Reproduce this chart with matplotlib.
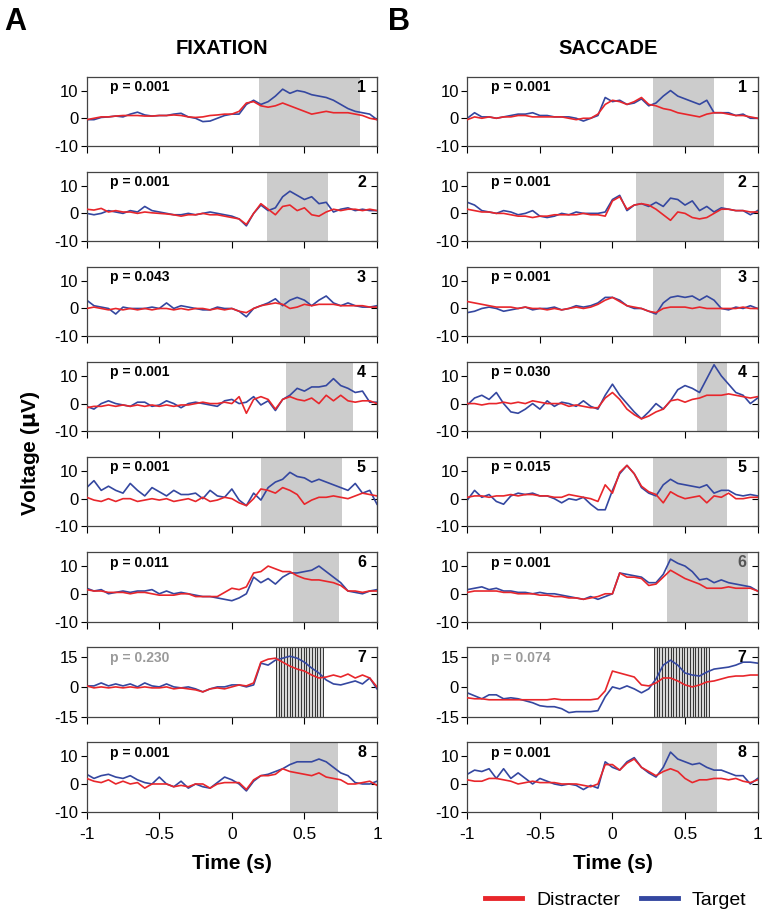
import numpy as np
import matplotlib.pyplot as plt
from matplotlib.lines import Line2D

plt.rcParams['font.family'] = ['Liberation Sans', 'DejaVu Sans']

RED = '#e8262b'
BLUE = '#3447a0'
SHADE = '#cccccc'

# sample times (s), one value every 50 ms
time = np.linspace(-1, 1, 41)

# ---- FIXATION: target (blue) and distracter (red) ERPs ----
fix1_target = [-0.5, -0.5, 0.3, 0.5, 0.8, 0.5, 1.5, 2.2, 1.2, 0.8, 1, 1, 1.5, 1.8, 0.5, 0, -1.2, -1, 0, 1, 1.5,
               1.5, 5, 6.5, 5, 6, 8, 10.5, 9, 10, 9.5, 8.5, 8, 7.5, 6.5, 5, 3.5, 2.5, 2, 1.5, -0.5]
fix1_distracter = [-0.5, 0, 0.5, 0.5, 0.8, 1, 1, 1, 0.8, 0.8, 1, 1, 1.2, 1, 0.5, 0.3, 0.5, 1, 1.2, 1.5, 1.5,
                   2.5, 5.5, 6, 4.5, 4, 4.5, 5.5, 4.5, 3.5, 2.5, 1.5, 2, 2.5, 2, 2, 2, 1.5, 1, 0, -0.5]
fix2_target = [0, -0.5, 0, 1, 0.5, 0, 1, 0.5, 2.5, 1, 0.5, 0, -0.5, -0.5, 0, -0.5, 0, 0.5, 0, -0.5, -1,
               -2, -4.5, 0, 3, 1, 2, 6, 8, 6.5, 5, 6, 3.5, 4, 0.5, 1.5, 2, 1, 1.5, 1, 1]
fix2_distracter = [1.5, 1.2, 1.8, 0.5, 1, 0.5, 0.5, 0, 0.5, 0.2, 0, -0.2, -0.5, -1, -0.5, -0.5, 0, -0.5, -0.5, -1, -1.5,
                   -2, -4, 0, 3.5, 1.5, -0.5, 2.5, 3, 1, 2, -0.5, -1, 0.5, 1.5, 1, 1.5, 1.5, 1, 1.5, 1]
fix3_target = [3, 1, 0.5, 0, -2, 0.5, 0, 0, 0, 0.5, 0, 2, 0, 1, 0.5, 0, -0.5, -0.5, 0.5, 0, 0,
               -1, -3, 0, 1, 2, 3.5, 1, 3, 4, 3, 1, 3, 4.5, 2, 1, 2, 1, 0.5, 0.5, 1]
fix3_distracter = [0, 0.5, 0, -0.5, 0, -0.5, 0, -0.5, 0, -0.5, 0, 0, -0.5, 0, -0.5, 0, 0, -0.5, 0, -0.5, 0,
                   -1, -1.5, 0, 1, 1.5, 2, 1.5, 0, 0.5, 1.5, 1, 1.5, 1.5, 1.5, 1, 1, 1, 1, 0.5, 0.5]
fix4_target = [-1, -2, 0, 1, 0, -0.5, -1, 0.5, 0.5, -1, -0.5, 1, 0, -1.5, 0, 0.5, 0, -0.5, -1, 1, 1.5,
               0, 0.5, 2.5, -0.5, 1, -2.5, 1.5, 3, 5.5, 4.5, 6, 6, 6.5, 9, 6.5, 5.5, 4, 4.5, 0.5, 0.5]
fix4_distracter = [-1.5, -1, -1, -0.5, -1, -0.5, -1, -0.5, -1, -0.5, -1, -0.5, -1, -0.5, -0.5, 0, 0.5, 0, 0, 0.5, 0,
                   2.5, -3.5, 1.5, 2.5, 1.5, -2, 1.5, 2.5, 1.5, 1, 2, 0, 3, 1, 3, 1, 0.5, 1, 1, 0]
fix5_target = [4, 6.5, 3, 4.5, 3, 2, 5.5, 3, 1, 4, 2.5, 1, 3, 1.5, 1.5, 2, 0, 3, 1, 0.5, 3.5,
               -0.5, -2.5, 2, -0.5, 4, 6, 7, 9.5, 8, 7.5, 6, 7, 6, 5, 4, 3, 5.5, 2, 3, -2]
fix5_distracter = [0.5, -0.5, -1, 0, -1, 0, 0, -1, -0.5, 0, -0.5, 0, -1, -0.5, 0, -1, 0.5, -1, -0.5, 0.5, 0,
                   -1.5, -2.5, 0, 3.5, 3, 2, 4, 3, 1.5, -2, -0.5, 0.5, 0.5, 1, 0.5, 0, 1, 2, 1.5, 1]
fix6_target = [2, 1, 1.5, 0, 0.5, 1, 0.5, 1, 1, 1.5, 0, 1, 0, 0.5, 0, -0.5, -1, -1, -1.5, -2, -2.5,
               -1.5, 0, 6, 4, 5.5, 3.5, 6, 7.5, 7.5, 8, 8.5, 10, 8, 6, 4, 1, 0.5, 0, 1, 1.5]
fix6_distracter = [1.5, 1, 1, 0.5, 0.5, 0.5, 0, 0.5, 0.5, 0, -0.5, -0.5, -0.5, 0, 0, -1, -1, -1, -1, 0.5, 2,
                   1.5, 2.5, 7.5, 8, 10, 9, 8, 8, 6.5, 5.5, 5, 5, 4.5, 4, 3, 1, 1, 0.5, 1, 1]
fix7_target = [0.5, 0.5, 2, 0.5, 1.5, 0.5, 1.5, 0, 2, 0.5, 0, 1.5, 0, -0.5, 0, -1, -2.5, -1, 0, 0, 1,
               1, 0, 1, 12, 11, 13.5, 14.5, 15.5, 14.5, 12.5, 9.5, 7, 3.5, 1.5, 1, 2, 3, 1.5, 4.5, -1]
fix7_distracter = [0.5, -0.5, 0, -0.5, 0, -0.5, 0, -0.5, 0, -0.5, -0.5, 0, -1, -0.5, -1, -1.5, -2.5, -1, -0.5, -1, 0,
                   1, 0.5, 2, 12.5, 14, 14.5, 12.5, 10.5, 9, 8, 6, 4.5, 5, 6, 5, 6.5, 4.5, 6, 4.5, 0]
fix8_target = [3.5, 2, 3, 3.5, 2.5, 2, 3, 1.5, 0.5, 0, 2.5, 0, -1, 1, -1.5, 0, -1, -1.5, 0.5, 2.5, 1.5,
               0, -2.5, 1, 3, 3.5, 4.5, 5.5, 7, 8, 8, 8, 9, 8, 6, 4, 3, 0.5, 0, 0, 1]
fix8_distracter = [2, 1, 0.5, 1.5, 0, 1, 0, 0.5, -1.5, 0, 0, 0, -1, -0.5, -1, 0, 0, -1.5, 0, 0.5, 0.5,
                   0.5, -2, 1.5, 3, 3, 3.5, 5.5, 4.5, 4, 3.5, 3, 4, 2.5, 2, 1.5, 0, 0, 0.5, 1, -0.5]

# ---- SACCADE ----
sac1_target = [0, 2, 0.5, 0.5, 0, 0.5, 1, 1.5, 1.5, 2, 1, 1, 0.5, 0.5, 0.5, 0, -1, 0, 1, 7.5, 6,
               6.5, 5, 5.5, 7, 4.5, 5.5, 8, 10, 8, 7, 6, 5, 6.5, 2, 2, 2, 1, 1.5, 0, 0]
sac1_distracter = [-0.5, 0.5, 0, 0.5, 0, 0.5, 0.5, 1, 1, 0.5, 0.5, 0.5, 0.5, 0.5, 0, -0.5, 0, 0, 1.5, 5, 6.5,
                   6, 5, 6, 7.5, 5, 4.5, 3.5, 3, 2, 1.5, 1, 0.5, 1.5, 2, 2, 1.5, 1, 1, 0.5, 0]
sac2_target = [4, 3, 1, 0.5, 0, 1, 0.5, -0.5, 0, 1, -1, -1.5, -1, 0, -0.5, 0.5, 0, 0, 0, 0.5, 5,
               6.5, 1, 3, 3.5, 2.5, 4, 2.5, 5.5, 5, 3, 4.5, 1, 2.5, 0.5, 2, 1.5, 1, 1, -0.5, 1]
sac2_distracter = [1.5, 1, 0.5, 0.5, 0, 0, -0.5, -1, -1, -1.5, -1, -1, -0.5, -0.5, -0.5, -0.5, 0, -0.5, -0.5, -1, 4.5,
                   6, 1.5, 3, 3.5, 3, 1.5, -0.5, -2.5, 0.5, 0, -1.5, -2, -1.5, 0, 1.5, 1.5, 1, 1, 0.5, 0.5]
sac3_target = [-1.5, -1, 0, 0.5, 0, -1, -0.5, 0, 0.5, -0.5, 0, 0, 0.5, -0.5, 0, 1, 0.5, 1, 2, 4, 4,
               3, 1, 0, 0, -1, -2, 2, 4, 4.5, 4, 4.5, 3, 4.5, 3, 0, -0.5, 0.5, 0, 1, 0]
sac3_distracter = [2.5, 2, 1.5, 1, 0.5, 0.5, 0.5, 0, 0.5, 0, 0, -0.5, 0, -0.5, 0, 0.5, 0, 0.5, 1.5, 3, 4,
                   2.5, 1, 0.5, 0, -1, -1.5, 0, 0.5, 0.5, 0.5, 0, 0.5, 0, 0, 0, 0, 0, 0.5, 0, 0]
sac4_target = [-0.5, 2, 3, 1.5, 4, 0, -3, -3.5, -2, 0, -2, 1, -1, 0.5, 0, -1, 1, -1, -2, 3, 7,
               3, 0, -3, -5.5, -3, 0, -2, 1, 5, 6.5, 5.5, 4, 9, 14, 10, 7, 4, 3, 0, 2]
sac4_distracter = [0, 0, -0.5, 0, 0, 0.5, 0, 0.5, 0, 1, 0.5, 0, 0, 0, -1, -0.5, -1, -1.5, -1.5, 2, 4,
                   1.5, -2, -4, -5.5, -4.5, -3, -2, 1, 1.5, 0.5, 1.5, 2, 3, 3, 3, 3.5, 3, 2.5, 2, 2.5]
sac5_target = [-0.5, 3, 0.5, 1.5, -1, -2, 1, 2, 1.5, 2, 1, 1, 0, -1.5, 0, -0.5, 0.5, -2, -4, -4, 3,
               9, 12, 9, 4, 2, 1, 5, 7, 5.5, 5, 4.5, 4, 5, 2, 3, 3, 1.5, 1, 1.5, 1]
sac5_distracter = [0.5, 1, 1, 0.5, 1, 1, 1.5, 1, 1.5, 1.5, 1, 1, 0.5, 0.5, 1.5, 1, 0.5, 0, -1, 5, 2,
                   9.5, 12, 9, 4.5, 2.5, 1.5, -1.5, 2.5, 1, 0, 0.5, 1, -1.5, 1, 0.5, 2, 0, 0, 0.5, 0.5]
sac6_target = [1.5, 2, 2.5, 1.5, 2, 1, 1, 0.5, 0.5, 0, 0.5, 0, 0, -0.5, -1, -1.5, -2, -1, -2, -1, 0,
               7.5, 7, 6.5, 6, 4, 4, 7, 12.5, 11, 10, 8, 5, 5.5, 4, 5, 4, 3.5, 3, 2.5, 1]
sac6_distracter = [0.5, 1, 1, 1, 1, 0.5, 0.5, 0, 0, 0, -0.5, -0.5, -1, -1, -1.5, -1.5, -2, -1.5, -1, 0, 0,
                   7.5, 6, 6, 5.5, 3, 3.5, 6, 8.5, 7, 5.5, 4.5, 3.5, 2, 2, 2, 2.5, 2, 2, 2, 1]
sac7_target = [-3, -4.5, -6, -4, -4, -6, -5.5, -6, -7, -8, -9.5, -10, -10, -11, -13, -12.5, -12.5, -12.5, -12, -5, 0,
               -1, 0.5, -1, -3, -1, 4, 11, 13.5, 11, 7, 6, 5.5, 7.5, 9, 9.5, 10, 11, 12.5, 12.5, 12]
sac7_distracter = [-5.5, -6, -6, -6.5, -6.5, -6.5, -6.5, -6.5, -6.5, -6.5, -6.5, -6.5, -6, -6.5, -6.5, -6.5, -6.5, -6.5,
                   -6, -2, 8, 7, 6, 5, 1, 0.5, 2, 4.5, 4.5, 3, 1, 0, 1, 2.5, 3, 4, 5, 5.5, 5.5, 6, 6]
sac8_target = [3.5, 5, 4.5, 5.5, 2, 5.5, 2, 4, 2, 0, 2, 1, 0, -0.5, 0, -0.5, -2, -0.5, -1.5, 8, 6,
               5, 8, 9.5, 6, 4, 2.5, 6, 11.5, 9, 8, 7, 7.5, 6, 5, 5, 4, 3, 3, 0, 2]
sac8_distracter = [1.5, 1, 1, 2, 2, 1.5, 1, 0, 0.5, 1, 0.5, 0.5, 0.5, 0, 0, 0, -0.5, -1, 0, 7, 7,
                   5, 7.5, 9, 6, 4.5, 3, 4.5, 5.5, 4.5, 2, 0.5, 1.5, 1.5, 2, 2, 1.5, 2, 1, 0.5, 1.5]

# significant windows (s), p-values
fix_windows = [(0.19, 0.885), (0.241, 0.662), (0.333, 0.54), (0.372, 0.834),
               (0.202, 0.759), (0.418, 0.74), (0.303, 0.628), (0.404, 0.728)]
sac_windows = [(0.281, 0.699), (0.162, 0.768), (0.281, 0.745), (0.58, 0.791),
               (0.281, 0.791), (0.378, 0.935), (0.286, 0.667), (0.339, 0.718)]
fix_p = ['0.001', '0.001', '0.043', '0.001', '0.001', '0.011', '0.230', '0.001']
sac_p = ['0.001', '0.001', '0.001', '0.030', '0.015', '0.001', '0.074', '0.001']

fix_target = [fix1_target, fix2_target, fix3_target, fix4_target,
              fix5_target, fix6_target, fix7_target, fix8_target]
fix_distracter = [fix1_distracter, fix2_distracter, fix3_distracter, fix4_distracter,
                  fix5_distracter, fix6_distracter, fix7_distracter, fix8_distracter]
sac_target = [sac1_target, sac2_target, sac3_target, sac4_target,
              sac5_target, sac6_target, sac7_target, sac8_target]
sac_distracter = [sac1_distracter, sac2_distracter, sac3_distracter, sac4_distracter,
                  sac5_distracter, sac6_distracter, sac7_distracter, sac8_distracter]


def draw_panel(ax, target, distracter, window, p, num, n_hatch, last, num_color='black'):
    significant = float(p) < 0.05
    if num == 7:
        ax.set_ylim(-15, 20)
        yticks = [-15, 0, 15]
    else:
        ax.set_ylim(-10, 15)
        yticks = [-10, 0, 10]
    ax.set_xlim(-1, 1)

    if significant:
        ax.axvspan(window[0], window[1], color=SHADE, lw=0, zorder=0)
    else:
        # non-significant windows are drawn hatched with thin vertical lines
        ax.axvspan(window[0], window[1], color='#d6d6d6', lw=0, zorder=0)
        ax.vlines(np.linspace(window[0], window[1], n_hatch), -15, 20,
                  color='#333333', lw=0.7, zorder=1)

    ax.plot(time, distracter, color=RED, lw=1.2, zorder=3)
    ax.plot(time, target, color=BLUE, lw=1.2, zorder=2)

    ax.text(0.08, 0.85, f'p = {p}', transform=ax.transAxes, fontsize=10,
            fontweight='bold', va='center', color='black' if significant else '#9a9a9a')
    ax.text(0.962, 0.85, str(num), transform=ax.transAxes, fontsize=11.5,
            fontweight='bold', va='center', ha='right', color=num_color)

    ax.set_yticks(yticks)
    ax.set_yticklabels([str(v) for v in yticks])
    ax.set_xticks([-1, -0.5, 0, 0.5, 1])
    ax.tick_params(axis='y', direction='out', length=4, width=0.8, labelsize=12, pad=2)
    ax.tick_params(axis='x', direction='out', length=5, width=0.8, labelsize=12.5, pad=6)
    if last:
        ax.set_xticklabels(['-1', '-0.5', '0', '0.5', '1'])
    else:
        ax.set_xticklabels([])
    right = ax.secondary_yaxis('right')
    right.set_yticks(yticks)
    right.tick_params(direction='in', length=4, width=0.8, labelright=False)
    right.spines['right'].set_color('#444444')
    for s in ax.spines.values():
        s.set_color('#444444')
        s.set_linewidth(0.9)


fig = plt.figure(figsize=(7.64, 9.16), dpi=100)
W, H = 764, 916
col_left = [86.7, 467.3]
ax_w, ax_h = 290.3, 69.3
row_top = 76.7
row_step = 95.1

columns = [(fix_target, fix_distracter, fix_windows, fix_p, 18),
           (sac_target, sac_distracter, sac_windows, sac_p, 21)]
for c, (targets, distracters, windows, ps, n_hatch) in enumerate(columns):
    for i in range(8):
        top = row_top + i * row_step
        ax = fig.add_axes([col_left[c] / W, 1 - (top + ax_h) / H, ax_w / W, ax_h / H])
        num_color = '#555555' if (c == 1 and i == 5) else 'black'
        draw_panel(ax, targets[i], distracters[i], windows[i], ps[i], i + 1, n_hatch,
                   i == 7, num_color)
        if i == 7:
            ax.set_xlabel('Time (s)', fontsize=15, fontweight='bold', labelpad=9)

fig.text(0.006, 0.992, 'A', fontsize=22, fontweight='bold', va='top')
fig.text(0.508, 0.992, 'B', fontsize=22, fontweight='bold', va='top')
fig.text(222 / W, 1 - 48 / H, 'FIXATION', fontsize=14.5, fontweight='bold', ha='center', va='center')
fig.text(608 / W, 1 - 48 / H, 'SACCADE', fontsize=14.5, fontweight='bold', ha='center', va='center')
fig.text(30 / W, 1 - 453 / H, r'Voltage ($\mathbf{\mu}$V)', fontsize=15, fontweight='bold',
         rotation=90, ha='center', va='center')

handles = [Line2D([], [], color=RED, lw=3.5, label='Distracter'),
           Line2D([], [], color=BLUE, lw=3.5, label='Target')]
fig.legend(handles=handles, loc='center right', bbox_to_anchor=(1.0, 0.017), ncol=2,
           frameon=False, fontsize=14, handlelength=1.9, handletextpad=0.7, columnspacing=1.1)

fig.savefig('out.png', dpi=100)
